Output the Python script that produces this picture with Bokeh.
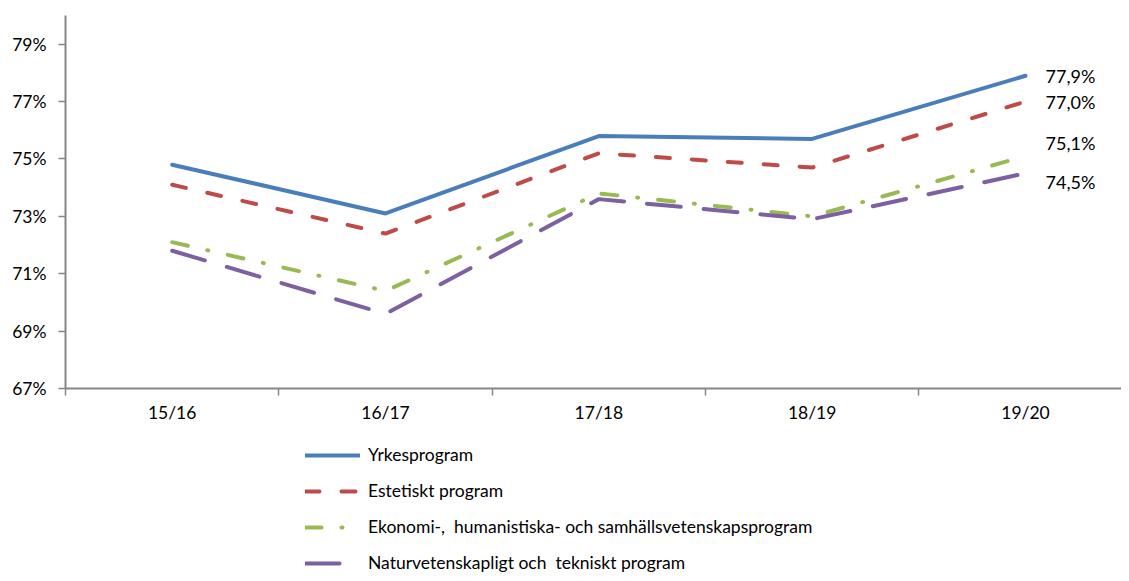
from bokeh.plotting import figure
from bokeh.layouts import column
from bokeh.models import Range1d, FixedTicker, Legend, LegendItem, ColumnDataSource
from bokeh.core.properties import value
from bokeh.embed import file_html
from bokeh.resources import INLINE

years = ["15/16", "16/17", "17/18", "18/19", "19/20"]
yrkes = [74.8, 73.1, 75.8, 75.7, 77.9]
estet = [74.1, 72.4, 75.2, 74.7, 77.0]
ekonomi = [72.1, 70.4, 73.8, 73.0, 75.1]
natur = [71.8, 69.6, 73.6, 72.9, 74.5]
names = ["Yrkesprogram", "Estetiskt program",
         "Ekonomi-,  humanistiska- och samhällsvetenskapsprogram",
         "Naturvetenskapligt och  tekniskt program"]
end_labels = ["77,9%", "77,0%", "75,1%", "74,5%"]
yticks = [67, 69, 71, 73, 75, 77, 79]

FONT = "Lato"
FS = "17.5px"
x = list(range(1, len(years) + 1))

p = figure(frame_width=1056, frame_height=373, output_backend="svg", toolbar_location=None,
           x_range=Range1d(0.5, 5.45), y_range=Range1d(67, 80),
           min_border_left=65, min_border_top=15, min_border_right=0, min_border_bottom=40)
p.outline_line_color = None
p.grid.grid_line_color = None

series = [
    (yrkes, "#4A7EBB", "solid"),
    (estet, "#BE4B48", "14 22"),
    (ekonomi, "#98B954", "16 20 1 20"),
    (natur, "#7D60A0", "34 23"),
]
for vals, col, dash in series:
    p.line(x, vals, line_color=col, line_width=4, line_dash=dash, line_cap="round")

offsets = [0, 0, -13, 9]
for i, (vals, col, dash) in enumerate(series):
    src = ColumnDataSource(dict(x=[x[-1]], y=[vals[-1]], t=[end_labels[i]]))
    p.text("x", "y", "t", source=src, x_offset=20, y_offset=offsets[i],
           text_font=value(FONT), text_font_size="18px", text_color="black",
           text_align="left", text_baseline="middle")

AX = "#868686"
xa = p.xaxis[0]
xa.ticker = FixedTicker(ticks=x, minor_ticks=[0.5, 1.5, 2.5, 3.5, 4.5, 5.5])
xa.major_label_overrides = {i + 1: years[i] for i in range(len(years))}
xa.major_tick_line_color = None
xa.minor_tick_out = 7
xa.minor_tick_in = 0
xa.minor_tick_line_color = AX
xa.minor_tick_line_width = 1.5
xa.axis_line_color = AX
xa.axis_line_width = 2
xa.major_label_text_font = FONT
xa.major_label_text_font_size = FS
xa.major_label_text_color = "black"
xa.major_label_standoff = 6

ya = p.yaxis[0]
ya.ticker = FixedTicker(ticks=yticks, minor_ticks=[])
ya.major_label_overrides = {t: f"{t}%" for t in yticks}
ya.major_tick_out = 7
ya.major_tick_in = 0
ya.major_tick_line_color = AX
ya.major_tick_line_width = 1.5
ya.axis_line_color = AX
ya.axis_line_width = 2
ya.major_label_text_font = FONT
ya.major_label_text_font_size = FS
ya.major_label_text_color = "black"
ya.major_label_standoff = 12

# legend strip below the chart
p2 = figure(frame_width=1121, frame_height=145, output_backend="svg", toolbar_location=None,
            x_axis_type=None, y_axis_type=None, x_range=Range1d(0, 1), y_range=Range1d(0, 1),
            min_border_left=0, min_border_right=0, min_border_top=0, min_border_bottom=0)
p2.outline_line_color = None
p2.grid.grid_line_color = None
leg_renderers = []
nan = float("nan")
for vals, col, dash in series:
    src = ColumnDataSource(dict(x=[nan, nan], y=[nan, nan]))
    leg_renderers.append(p2.line("x", "y", source=src, line_color=col, line_width=4,
                                 line_dash=dash, line_cap="round"))
items = [LegendItem(label=names[i], renderers=[leg_renderers[i]], index=0) for i in range(4)]
legend = Legend(items=items, location=(305, 0), orientation="vertical",
                glyph_width=55, glyph_height=18, label_height=18, spacing=15,
                label_standoff=8, padding=0, margin=0, border_line_color=None,
                background_fill_alpha=0, label_text_font=FONT,
                label_text_font_size=FS, label_text_color="black")
p2.add_layout(legend, "center")

layout = column(p, p2, spacing=0)
open("out.html", "w").write(file_html(layout, INLINE))
